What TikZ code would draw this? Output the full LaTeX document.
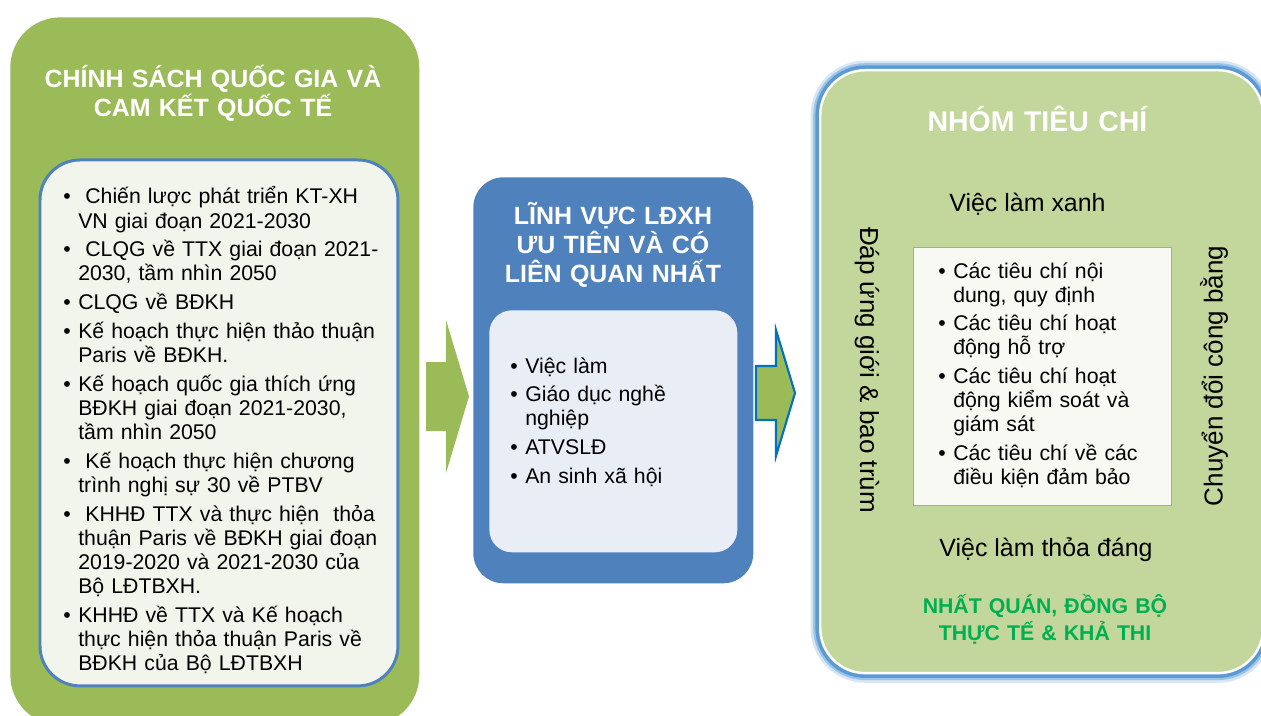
\documentclass[tikz,border=0pt]{standalone}
\usepackage{fontspec}
\setmainfont{Liberation Sans}
\usepackage{xcolor}
\usepackage{tikz}
\definecolor{policygreen}{RGB}{155,187,89}
\definecolor{policyfill}{RGB}{242,245,236}
\definecolor{fieldblue}{RGB}{79,129,189}
\definecolor{fieldfill}{RGB}{233,238,246}
\definecolor{critgreen}{RGB}{195,214,155}
\definecolor{critfill}{RGB}{247,249,242}
\definecolor{critline}{RGB}{142,169,219}
\definecolor{glowblue}{RGB}{91,155,213}
\definecolor{arrowblue}{RGB}{0,112,192}
\definecolor{slogangreen}{RGB}{0,176,80}

\newcommand{\bitem}[1]{\hangindent=8.5pt\hangafter=1\noindent\makebox[8.5pt][l]{\textbullet}#1\par\vspace{2.7pt}}

\begin{document}
\begin{tikzpicture}[x=0.02cm, y=-0.02cm,
  box/.style={anchor=north west, inner sep=0pt},
  titletext/.style={anchor=base, text=white, align=center, text width=7.5cm, inner sep=0pt, font=\bfseries\fontsize{14.2}{16.4}\selectfont},
  listtext/.style={anchor=base west, inner sep=0pt, align=left, font=\fontsize{12.1}{13.7}\selectfont},
  plaintext/.style={inner sep=0pt, font=\fontsize{14.2}{16.4}\selectfont},
  sidetext/.style={inner sep=0pt, font=\fontsize{14.8}{16.4}\selectfont},
  flowarrow/.style={fill=policygreen}]
\useasboundingbox (0,0) rectangle (1261,716);
\clip (0,0) rectangle (1261,716);

\node[box, minimum width=8.18cm, minimum height=14.16cm, rounded corners=1cm, fill=policygreen] (policy) at (10,17) {};
\node[box, minimum width=7.16cm, minimum height=10.52cm, rounded corners=0.8cm, fill=policyfill, draw=fieldblue, line width=1.7pt] (policylist) at (38.5,158.5) {};
\node[titletext] (policytitle) at (213,88) {CHÍNH SÁCH QUỐC GIA VÀ\\CAM KẾT QUỐC TẾ};
\node[listtext, text width=6.8cm] (policyitems) at (63,204) {%
\bitem{\ Chiến lược phát triển KT-XH\newline VN giai đoạn 2021-2030}
\bitem{\ CLQG về TTX giai đoạn 2021-\newline 2030, tầm nhìn 2050}
\bitem{CLQG về BĐKH}
\bitem{Kế hoạch thực hiện thảo thuận\newline Paris về BĐKH.}
\bitem{Kế hoạch quốc gia thích ứng\newline BĐKH giai đoạn 2021-2030,\newline tầm nhìn 2050}
\bitem{\ Kế hoạch thực hiện chương\newline trình nghị sự 30 về PTBV}
\bitem{\ KHHĐ TTX và thực hiện\ \ thỏa\newline thuận Paris về BĐKH giai đoạn\newline 2019-2020 và 2021-2030 của\newline Bộ LĐTBXH.}
\bitem{KHHĐ về TTX và Kế hoạch\newline thực hiện thỏa thuận Paris về\newline BĐKH của Bộ LĐTBXH}};

\coordinate (inarrow) at (426,396.5);
\fill[flowarrow] (inarrow) ++(0,-34.5) -- ++(20,0) -- ++(0,-42) -- ++(23,76.5) -- ++(-23,76.5) -- ++(0,-42) -- ++(-20,0) -- cycle;

\node[box, minimum width=5.6cm, minimum height=8.12cm, rounded corners=0.6cm, fill=fieldblue] (field) at (473,177) {};
\node[box, minimum width=4.96cm, minimum height=4.84cm, rounded corners=0.45cm, fill=fieldfill] (fieldlist) at (489,310) {};
\node[titletext] (fieldtitle) at (613,225) {LĨNH VỰC LĐXH\\ƯU TIÊN VÀ CÓ\\LIÊN QUAN NHẤT};
\node[listtext, text width=4.3cm] (fielditems) at (510,373) {%
\bitem{Việc làm}
\bitem{Giáo dục nghề\newline nghiệp}
\bitem{ATVSLĐ}
\bitem{An sinh xã hội}};

\coordinate (outarrow) at (756,393);
\draw[flowarrow, draw=arrowblue, line width=1.2pt] (outarrow) ++(0,-27) -- ++(20,0) -- ++(0,-36) -- ++(19,63) -- ++(-19,63) -- ++(0,-36) -- ++(-20,0) -- cycle;

\node[box, minimum width=8.86cm, minimum height=12.06cm, rounded corners=0.9cm, fill=critgreen, draw=white, line width=1.4pt,
  preaction={draw=glowblue!25, line width=11pt},
  preaction={draw=glowblue!60, line width=8pt},
  preaction={draw=glowblue, line width=5.5pt}] (criteria) at (819,69) {};
\node[box, minimum width=5.16cm, minimum height=5.16cm, fill=critfill, draw=critline, line width=0.6pt] (critlist) at (913,247) {};
\node[titletext, font=\bfseries\fontsize{16.2}{18}\selectfont] (crittitle) at (1037.5,132) {NHÓM TIÊU CHÍ};
\node[plaintext, anchor=base] (greenjob) at (1027.5,212) {Việc làm xanh};
\node[listtext, text width=4.3cm] (critems) at (938,278) {%
\bitem{Các tiêu chí nội\newline dung, quy định}
\bitem{Các tiêu chí hoạt\newline động hỗ trợ}
\bitem{Các tiêu chí hoạt\newline động kiểm soát và\newline giám sát}
\bitem{Các tiêu chí về các\newline điều kiện đảm bảo}};
\node[sidetext, rotate=-90] (gender) at (867,370) {Đáp ứng giới \& bao trùm};
\node[sidetext, rotate=90] (transition) at (1214,376) {Chuyển đổi công bằng};
\node[plaintext, anchor=base] (decentjob) at (1046,556) {Việc làm thỏa đáng};
\node[titletext, text=slogangreen, font=\bfseries\fontsize{12.1}{15.4}\selectfont] (slogan) at (1045,613) {NHẤT QUÁN, ĐỒNG BỘ\\THỰC TẾ \& KHẢ THI};
\end{tikzpicture}
\end{document}
